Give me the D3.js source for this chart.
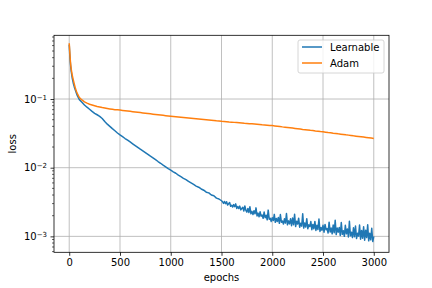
<!DOCTYPE html>
<html>
<head>
<meta charset="utf-8">
<script src="https://cdn.jsdelivr.net/npm/d3@7"></script>
<style>
  body { margin: 0; background: #fff; }
  svg { font-family: "DejaVu Sans", sans-serif; }
</style>
</head>
<body>
<div id="chart"></div>
<script>
// epochs sampled from the Adam curve
const adamEpochs = [0, 5, 10, 15, 20, 30, 40, 50, 60, 70, 80, 90, 100,
  125, 150, 175, 200, 225, 250, 275, 300, 325, 350, 375, 400, 425, 450, 475, 500,
  525, 550, 575, 600, 625, 650, 675, 700, 725, 750, 775, 800, 825, 850, 875, 900, 925, 950, 975, 1000,
  1025, 1050, 1075, 1100, 1125, 1150, 1175, 1200, 1225, 1250, 1275, 1300, 1325, 1350, 1375, 1400, 1425, 1450, 1475, 1500,
  1525, 1550, 1575, 1600, 1625, 1650, 1675, 1700, 1725, 1750, 1775, 1800, 1825, 1850, 1875, 1900, 1925, 1950, 1975, 2000,
  2025, 2050, 2075, 2100, 2125, 2150, 2175, 2200, 2225, 2250, 2275, 2300, 2325, 2350, 2375, 2400, 2425, 2450, 2475, 2500,
  2525, 2550, 2575, 2600, 2625, 2650, 2675, 2700, 2725, 2750, 2775, 2800, 2825, 2850, 2875, 2900, 2925, 2950, 2975, 3000];

const adam = [0.65, 0.5, 0.38, 0.31, 0.27, 0.22, 0.19, 0.165, 0.145, 0.13, 0.12, 0.112, 0.105,
  0.097, 0.091, 0.087, 0.084, 0.082, 0.080, 0.078, 0.0765, 0.075, 0.0738, 0.0727, 0.0717, 0.0708, 0.07, 0.0695, 0.069,
  0.0683, 0.0676, 0.0669, 0.0662, 0.0655, 0.0648, 0.0641, 0.0634, 0.0627, 0.0621, 0.0614, 0.0608, 0.0602, 0.0596, 0.059, 0.0584, 0.0578, 0.0572, 0.0566, 0.056,
  0.0555, 0.0551, 0.0546, 0.0541, 0.0537, 0.0532, 0.0528, 0.0523, 0.0519, 0.0515, 0.051, 0.0506, 0.0502, 0.0498, 0.0494, 0.049, 0.0486, 0.0481, 0.0477, 0.0473,
  0.047, 0.0467, 0.0463, 0.046, 0.0457, 0.0454, 0.0451, 0.0448, 0.0444, 0.0441, 0.0438, 0.0435, 0.0432, 0.0429, 0.0426, 0.0422, 0.0419, 0.0416, 0.0413, 0.041,
  0.0406, 0.0402, 0.0398, 0.0393, 0.0389, 0.0385, 0.0381, 0.0377, 0.0373, 0.0369, 0.0365, 0.0361, 0.0358, 0.0354, 0.035, 0.0347, 0.0343, 0.034, 0.0336, 0.0333,
  0.0329, 0.0325, 0.0322, 0.0318, 0.0315, 0.0311, 0.0308, 0.0305, 0.0301, 0.0298, 0.0295, 0.0291, 0.0288, 0.0285, 0.0282, 0.0279, 0.0276, 0.0273, 0.027, 0.0267];

// epochs sampled from the Learnable curve (denser in the noisy tail)
const learnableEpochs = [0, 5, 10, 15, 20, 30, 40, 50, 60, 70, 80, 90, 100,
  125, 150, 175, 200, 225, 250, 275, 300, 325, 350, 375, 400, 425, 450, 475, 500,
  525, 550, 575, 600, 625, 650, 675, 700, 725, 750, 775, 800, 825, 850, 875, 900, 925, 950, 975, 1000,
  1025, 1050, 1075, 1100, 1125, 1150, 1175, 1200, 1225, 1250, 1275, 1300, 1325, 1350, 1375, 1400, 1425, 1450, 1475, 1500,
  1510, 1520, 1530, 1540, 1550, 1560, 1570, 1580, 1590, 1600,
  1610, 1620, 1630, 1640, 1650, 1660, 1670, 1680, 1690, 1700,
  1710, 1720, 1730, 1740, 1750, 1760, 1770, 1780, 1790, 1800,
  1810, 1820, 1830, 1840, 1850, 1860, 1870, 1880, 1890, 1900,
  1910, 1920, 1930, 1940, 1950, 1960, 1970, 1980, 1990, 2000,
  2010, 2020, 2030, 2040, 2050, 2060, 2070, 2080, 2090, 2100,
  2110, 2120, 2130, 2140, 2150, 2160, 2170, 2180, 2190, 2200,
  2210, 2220, 2230, 2240, 2250, 2260, 2270, 2280, 2290, 2300,
  2310, 2320, 2330, 2340, 2350, 2360, 2370, 2380, 2390, 2400,
  2410, 2420, 2430, 2440, 2450, 2460, 2470, 2480, 2490, 2500,
  2510, 2520, 2530, 2540, 2550, 2560, 2570, 2580, 2590, 2600,
  2610, 2620, 2630, 2640, 2650, 2660, 2670, 2680, 2690, 2700,
  2710, 2720, 2730, 2740, 2750, 2760, 2770, 2780, 2790, 2800,
  2810, 2820, 2830, 2840, 2850, 2860, 2870, 2880, 2890, 2900,
  2910, 2920, 2930, 2940, 2950, 2960, 2970, 2980, 2990, 3000];

const learnable = [0.62, 0.45, 0.35, 0.29, 0.25, 0.2, 0.17, 0.15, 0.135, 0.122, 0.112, 0.105, 0.098,
  0.09, 0.082, 0.076, 0.071, 0.066, 0.062, 0.059, 0.056, 0.052, 0.047, 0.043, 0.040, 0.037, 0.0345, 0.032, 0.030,
  0.0283, 0.0266, 0.0251, 0.0237, 0.0223, 0.0210, 0.0198, 0.0186, 0.0176, 0.0166, 0.0156, 0.0147, 0.0139, 0.0131, 0.0123, 0.0116, 0.0109, 0.0103, 0.0097, 0.0092,
  0.0087, 0.0083, 0.0078, 0.0074, 0.0070, 0.0067, 0.0063, 0.0060, 0.0057, 0.0054, 0.0052, 0.0049, 0.0047, 0.0044, 0.0043, 0.0040, 0.0039, 0.0036, 0.0035, 0.0033,
  0.00321, 0.00302, 0.00322, 0.00300, 0.00319, 0.00286, 0.00299, 0.00311, 0.00274, 0.00284,
  0.00267, 0.00290, 0.00271, 0.00297, 0.00255, 0.00272, 0.00254, 0.00276, 0.00243, 0.00254,
  0.00265, 0.00234, 0.00277, 0.00239, 0.00225, 0.00255, 0.00223, 0.00270, 0.00213, 0.00231,
  0.00208, 0.00236, 0.00213, 0.00260, 0.00198, 0.00218, 0.00193, 0.00228, 0.00197, 0.00204,
  0.00183, 0.00226, 0.00187, 0.00203, 0.00174, 0.00241, 0.00178, 0.00184, 0.00165, 0.00187,
  0.00170, 0.00209, 0.00160, 0.00182, 0.00165, 0.00188, 0.00155, 0.00208, 0.00161, 0.00167,
  0.00151, 0.00180, 0.00156, 0.00215, 0.00147, 0.00168, 0.00152, 0.00180, 0.00143, 0.00185,
  0.00148, 0.00210, 0.00139, 0.00166, 0.00151, 0.00184, 0.00136, 0.00155, 0.00141, 0.00213,
  0.00132, 0.00157, 0.00137, 0.00181, 0.00129, 0.00147, 0.00139, 0.00164, 0.00125, 0.00149,
  0.00129, 0.00165, 0.00122, 0.00145, 0.00126, 0.00179, 0.00118, 0.00135, 0.00123, 0.00145,
  0.00115, 0.00149, 0.00125, 0.00130, 0.00112, 0.00161, 0.00116, 0.00132, 0.00109, 0.00146,
  0.00113, 0.00171, 0.00106, 0.00132, 0.00115, 0.00135, 0.00103, 0.00159, 0.00107, 0.00121,
  0.00100, 0.00145, 0.00109, 0.00128, 0.00098, 0.00166, 0.00102, 0.00115, 0.00096, 0.00133,
  0.00099, 0.00141, 0.00093, 0.00111, 0.00101, 0.00146, 0.00091, 0.00122, 0.00094, 0.00138,
  0.00088, 0.00123, 0.00096, 0.00147, 0.00086, 0.00111, 0.00089, 0.00131, 0.00084, 0.00100];

const seriesNames = ["Learnable", "Adam"];
const seriesColors = ["#1f77b4", "#ff7f0e"];
const xTicks = [0, 500, 1000, 1500, 2000, 2500, 3000];
const yTicks = [1e-3, 1e-2, 1e-1];
const yTickExp = ["\u22123", "\u22122", "\u22121"];

const width = 432, height = 288;
const margins = {top: 35.3, right: 43, bottom: 35.7, left: 54};

const svg = d3.select("#chart")
  .append("svg")
  .attr("width", width)
  .attr("height", height);

const xScale = d3.scaleLinear()
  .domain([-150, 3150])
  .range([margins.left, width - margins.right]);

const yScale = d3.scaleLog()
  .domain([5.86e-4, 0.847])
  .range([height - margins.bottom, margins.top]);

// grid
svg.append("g")
  .selectAll("line")
  .data(xTicks)
  .join("line")
    .attr("x1", d => xScale(d)).attr("x2", d => xScale(d))
    .attr("y1", margins.top).attr("y2", height - margins.bottom)
    .attr("stroke", "#b0b0b0").attr("stroke-width", 0.8);

svg.append("g")
  .selectAll("line")
  .data(yTicks)
  .join("line")
    .attr("x1", margins.left).attr("x2", width - margins.right)
    .attr("y1", d => yScale(d)).attr("y2", d => yScale(d))
    .attr("stroke", "#b0b0b0").attr("stroke-width", 0.8);

// lines
svg.append("clipPath").attr("id", "clip")
  .append("rect")
  .attr("x", margins.left).attr("y", margins.top)
  .attr("width", width - margins.left - margins.right)
  .attr("height", height - margins.top - margins.bottom);

const line = d3.line()
  .x(d => xScale(d[0]))
  .y(d => yScale(d[1]));

const series = [[learnableEpochs, learnable], [adamEpochs, adam]];
series.forEach(([xs, vals], i) => {
  svg.append("path")
    .datum(xs.map((e, j) => [e, vals[j]]))
    .attr("clip-path", "url(#clip)")
    .attr("fill", "none")
    .attr("stroke", seriesColors[i])
    .attr("stroke-width", 1.5)
    .attr("stroke-linejoin", "round")
    .attr("d", line);
});

// x axis
const xAxis = d3.axisBottom(xScale)
  .tickValues(xTicks)
  .tickSize(3.5)
  .tickPadding(3.5)
  .tickFormat(d3.format("d"));

const xGroup = svg.append("g")
  .attr("transform", `translate(0, ${height - margins.bottom})`)
  .call(xAxis);
xGroup.select(".domain").remove();
xGroup.selectAll("line").attr("stroke", "#000").attr("stroke-width", 0.8);
xGroup.selectAll("text").attr("fill", "#000").style("font-size", "10px").style("font-family", "DejaVu Sans");

// y axis major
const yAxis = d3.axisLeft(yScale)
  .tickValues(yTicks)
  .tickSize(3.5)
  .tickPadding(3.5)
  .tickFormat("");

const yGroup = svg.append("g")
  .attr("transform", `translate(${margins.left}, 0)`)
  .call(yAxis);
yGroup.select(".domain").remove();
yGroup.selectAll("line").attr("stroke", "#000").attr("stroke-width", 0.8);

// y tick labels with superscript exponents
yGroup.selectAll(".tick").each(function(d, i) {
  const t = d3.select(this).append("text")
    .attr("x", -7)
    .attr("dy", "0.32em")
    .attr("text-anchor", "end")
    .attr("fill", "#000")
    .style("font-size", "10px")
    .style("font-family", "DejaVu Sans");
  t.append("tspan").text("10");
  t.append("tspan").attr("dy", "-0.45em").style("font-size", "7px").text(yTickExp[i]);
});

// y minor ticks
const minor = [];
[-4, -3, -2, -1].forEach(p => {
  for (let k = 2; k <= 9; k++) minor.push(k * Math.pow(10, p));
});
svg.append("g")
  .selectAll("line")
  .data(minor.filter(v => v >= yScale.domain()[0] && v <= yScale.domain()[1]))
  .join("line")
    .attr("x1", margins.left - 2).attr("x2", margins.left)
    .attr("y1", d => yScale(d)).attr("y2", d => yScale(d))
    .attr("stroke", "#000").attr("stroke-width", 0.6);

// frame
svg.append("rect")
  .attr("x", margins.left).attr("y", margins.top)
  .attr("width", width - margins.left - margins.right)
  .attr("height", height - margins.top - margins.bottom)
  .attr("fill", "none")
  .attr("stroke", "#000")
  .attr("stroke-width", 0.8);

// axis labels
svg.append("text")
  .attr("x", (margins.left + width - margins.right) / 2)
  .attr("y", 281)
  .attr("text-anchor", "middle")
  .style("font-size", "10px")
  .text("epochs");

svg.append("text")
  .attr("transform", `translate(16, ${(margins.top + height - margins.bottom) / 2}) rotate(-90)`)
  .attr("text-anchor", "middle")
  .style("font-size", "10px")
  .text("loss");

// legend
const legend = svg.append("g").attr("transform", "translate(298, 40)");
legend.append("rect")
  .attr("width", 86).attr("height", 33)
  .attr("rx", 2)
  .attr("fill", "#fff").attr("fill-opacity", 0.8)
  .attr("stroke", "#cccccc").attr("stroke-width", 0.8);

seriesNames.forEach((name, i) => {
  const y = 7 + i * 16;
  legend.append("line")
    .attr("x1", 4).attr("x2", 24)
    .attr("y1", y).attr("y2", y)
    .attr("stroke", seriesColors[i]).attr("stroke-width", 1.5);
  legend.append("text")
    .attr("x", 32).attr("y", y)
    .attr("dy", "0.35em")
    .style("font-size", "10px")
    .text(name);
});
</script>
</body>
</html>
